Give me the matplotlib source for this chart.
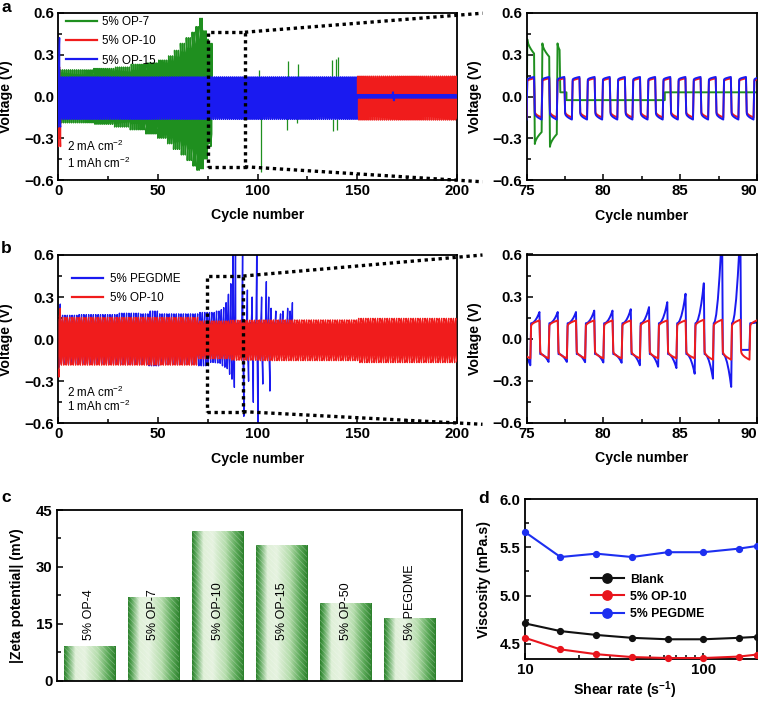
import numpy as np
import matplotlib
matplotlib.use('Agg')
import matplotlib.pyplot as plt
from matplotlib.patches import Rectangle
from matplotlib.lines import Line2D
from matplotlib.colors import LinearSegmentedColormap
from matplotlib.ticker import MultipleLocator, FixedLocator, NullFormatter, FixedFormatter

plt.rcParams['font.family'] = ['Liberation Sans', 'DejaVu Sans']
plt.rcParams['font.weight'] = 'bold'
plt.rcParams['axes.labelweight'] = 'bold'
plt.rcParams['mathtext.default'] = 'regular'
plt.rcParams['hatch.linewidth'] = 0.5

# ---------------- data ----------------
PERIOD_A = 0.985         # x-units per charge/discharge cycle, panel a traces
PHASE_A = 0.14
PERIOD_B = 1.1884        # panel b traces
PHASE_B = 0.38

# panel a : 5% OP-7 (green) -- cycling part
a_op7_cyc = [0, 1, 8, 18, 28, 36, 44, 50, 55, 58, 61, 64, 67, 69, 71, 73, 75]
a_op7_pos = [0.24, 0.19, 0.19, 0.20, 0.21, 0.23, 0.24, 0.26, 0.29, 0.33, 0.38, 0.42, 0.46, 0.50, 0.56, 0.47, 0.41]
a_op7_neg = [0.22, 0.19, 0.19, 0.20, 0.22, 0.24, 0.27, 0.30, 0.34, 0.38, 0.42, 0.46, 0.50, 0.53, 0.52, 0.45, 0.36]
a_op7_zoom_t0 = 75.1
a_op7_zoom = [0.41, -0.34, 0.38, -0.36, 0.38]
a_op7_fail = 77.2
# after short circuit: step levels
a_op7_short_t = [77.2, 77.6, 84.0, 145.0]
a_op7_short_v = [0.03, -0.026, 0.03]
a_op7_spk_t = [100.9, 101.9, 114.6, 115.3, 119.5, 120.1, 137.2, 137.8, 139.2, 139.9, 140.4]
a_op7_spk_v = [0.19, -0.54, -0.24, 0.25, -0.19, 0.23, 0.26, -0.25, 0.27, -0.24, 0.28]

# panel a : 5% OP-10 (red)
a_op10_cyc = [0, 1.0, 150]
a_op10_pos = [0.21, 0.13, 0.145]
a_op10_neg = [0.36, 0.15, 0.17]
a_op10_end = 200

# panel a : 5% OP-15 (blue)
a_op15_cyc = [0, 1.0, 150]
a_op15_pos = [0.42, 0.14, 0.012]
a_op15_neg = [0.22, 0.165, 0.012]
a_op15_spk_t = [167.6, 168.2]
a_op15_spk_v = [0.03, -0.03]
a_op15_end = 200

# panel b : 5% PEGDME (blue)
b_peg_cyc = [0, 1.0, 10, 30, 40, 45, 50, 70, 90.3]
b_peg_pos = [0.25, 0.17, 0.175, 0.185, 0.18, 0.20, 0.18, 0.19, 0.12]
b_peg_neg = [0.20, 0.175, 0.175, 0.18, 0.18, 0.19, 0.18, 0.19, 0.10]
b_peg_zoom_t0 = 75.3
b_peg_zoom = [0.19, -0.166, 0.19, -0.166, 0.19, -0.168, 0.20, -0.17, 0.20, -0.172,
              0.21, -0.19, 0.225, -0.20, 0.26, -0.21, 0.32, -0.25, 0.395, -0.285,
              0.80, -0.344, 0.80, -0.08, 0.12, -0.08]
b_peg_spk_t = [92.4, 92.9, 94.0, 95.2, 96.6, 97.8, 99.3, 99.9, 101.0, 102.5, 103.2,
               104.5, 105.3, 106.2, 108.0, 111.0, 112.5, 114.0, 116.0, 117.3]
b_peg_spk_v = [0.80, -0.55, 0.35, -0.30, 0.30, -0.45, 0.80, -0.80, 0.30, -0.32, 0.41,
               0.30, -0.37, 0.22, 0.20, 0.18, 0.20, 0.22, 0.20, 0.26]
b_peg_end = 118.5

# panel b : 5% OP-10 (red)
b_op10_cyc = [0, 1.0, 70, 86, 100, 150]
b_op10_pos = [0.22, 0.155, 0.13, 0.135, 0.137, 0.148]
b_op10_neg = [0.27, 0.185, 0.14, 0.15, 0.153, 0.167]
b_op10_end = 200

# panel c
zeta_labels = ['5% OP-4', '5% OP-7', '5% OP-10', '5% OP-15', '5% OP-50', '5% PEGDME']
zeta_values = [9.1, 22.05, 39.4, 35.8, 20.4, 16.4]

# panel d
shear_rate = [10, 15.8, 25.1, 39.8, 63.1, 100, 158, 200]
visc_blank = [4.71, 4.63, 4.59, 4.56, 4.545, 4.545, 4.56, 4.57]
visc_op10 = [4.56, 4.44, 4.39, 4.36, 4.35, 4.35, 4.365, 4.386]
visc_peg = [5.66, 5.40, 5.435, 5.40, 5.45, 5.45, 5.487, 5.515]

# ---------------- colours ----------------
C_GREEN = '#1f8f1f'
C_RED = '#f01c1c'
C_BLUE = '#1a1af0'


def build_wave(t_end, period, phase, cp_cyc, cp_pos, cp_neg, base, frac=None,
               gamma=0.5, falling=False, zoom_t0=None, zoom_vals=(),
               spk_t=(), spk_v=()):
    h = period / 2.0
    k0 = int(np.floor((0 - phase) / h))
    k1 = int(np.ceil((t_end - phase) / h))
    ks = np.arange(k0, k1)
    n = len(ks)
    starts = phase + ks * h
    mids = starts + h / 2
    sign = np.where(ks % 2 == 0, 1.0, -1.0)
    idx = np.clip(np.searchsorted(cp_cyc, mids, side='right') - 1, 0, len(cp_cyc) - 1)
    peak = np.where(sign > 0, np.take(cp_pos, idx), np.take(cp_neg, idx)).astype(float)
    if zoom_t0 is not None:
        kd = int(np.floor((zoom_t0 - phase) / h)) - k0
        if (sign[kd] > 0) != (zoom_vals[0] > 0):
            kd += 1
        for i, v in enumerate(zoom_vals):
            if 0 <= kd + i < n:
                peak[kd + i] = abs(v)
    for ts, vs in zip(spk_t, spk_v):
        kk = int(np.floor((ts - phase) / h)) - k0
        if (sign[min(kk, n - 1)] > 0) != (vs > 0):
            kk += 1
        while kk >= n:
            kk -= 2
        peak[kk] = abs(vs)
    if frac is not None:
        lo = frac * peak
    else:
        lo = np.minimum(base, peak)
    f = np.array([0.0, 0.05, 0.15, 0.3, 0.5, 0.7, 0.85, 1.0])
    g = f ** gamma
    if falling:
        mag = peak[:, None] + (lo - peak)[:, None] * g[None, :]
    else:
        mag = lo[:, None] + (peak - lo)[:, None] * g[None, :]
    d = 0.05
    xs = starts[:, None] + d + (h - d) * f[None, :]
    ys = sign[:, None] * mag
    xs = xs.ravel()
    ys = ys.ravel()
    keep = (xs >= 0) & (xs <= t_end)
    return xs[keep], ys[keep]


W, HH = 758, 702
fig = plt.figure(figsize=(W / 100, HH / 100), dpi=100)


def rect(l, t, r, b):
    return [l / W, 1 - b / HH, (r - l) / W, (b - t) / HH]


ax_a = fig.add_axes(rect(58.3, 12.7, 457, 180))
ax_az = fig.add_axes(rect(526.5, 12.7, 757, 180.3))
ax_b = fig.add_axes(rect(58.3, 255, 457, 423.3))
ax_bz = fig.add_axes(rect(526.5, 254.5, 757, 422.8))
ax_c = fig.add_axes(rect(56.7, 510, 461.7, 680.7))
ax_d = fig.add_axes(rect(525, 499.3, 757, 659))

TICK_FS = 10.8
LAB_FS = 10.2


def style(ax):
    for s in ax.spines.values():
        s.set_linewidth(1.3)
    ax.tick_params(which='both', direction='in', top=False, right=False,
                   labelsize=TICK_FS, width=1.1, pad=3)
    ax.tick_params(which='major', length=4)
    ax.tick_params(which='minor', length=3)


# ---- build waves ----
g_x, g_y = build_wave(a_op7_fail, PERIOD_A, PHASE_A, a_op7_cyc, a_op7_pos, a_op7_neg,
                      None, frac=0.75, gamma=0.6, falling=True, zoom_t0=a_op7_zoom_t0,
                      zoom_vals=a_op7_zoom)
s_x = np.repeat(a_op7_short_t, 2)[1:-1]
s_y = np.repeat(a_op7_short_v, 2)
wa7 = (np.concatenate([g_x, s_x]), np.concatenate([g_y, s_y]))
wa10 = build_wave(a_op10_end, PERIOD_A, PHASE_A, a_op10_cyc, a_op10_pos, a_op10_neg, 0.11, gamma=0.5)
wa15 = build_wave(a_op15_end, PERIOD_A, PHASE_A, a_op15_cyc, a_op15_pos, a_op15_neg, 0.12, gamma=0.5,
                  spk_t=a_op15_spk_t, spk_v=a_op15_spk_v)
wbp = build_wave(b_peg_end, PERIOD_B, PHASE_B, b_peg_cyc, b_peg_pos, b_peg_neg, 0.11, gamma=2.0,
                 zoom_t0=b_peg_zoom_t0, zoom_vals=b_peg_zoom, spk_t=b_peg_spk_t, spk_v=b_peg_spk_v)
wb10 = build_wave(b_op10_end, PERIOD_B, PHASE_B, b_op10_cyc, b_op10_pos, b_op10_neg, 0.09, gamma=0.5)

# ---- panels a, b ----
for ax, lw in ((ax_a, 1.0), (ax_az, 1.4)):
    ax.plot(*wa7, color=C_GREEN, lw=lw, zorder=2)
    ax.vlines(a_op7_spk_t, 0, a_op7_spk_v, color=C_GREEN, lw=lw * 0.9, zorder=2)
    ax.plot(*wa10, color=C_RED, lw=lw, zorder=3)
    ax.plot(*wa15, color=C_BLUE, lw=lw, zorder=4)
for ax, lw in ((ax_b, 1.0), (ax_bz, 1.4)):
    ax.plot(*wbp, color=C_BLUE, lw=lw, zorder=2)
    ax.plot(*wb10, color=C_RED, lw=lw, zorder=3)

for ax in (ax_a, ax_b):
    style(ax)
    ax.set_xlim(0, 200)
    ax.set_ylim(-0.6, 0.6)
    ax.xaxis.set_major_locator(MultipleLocator(50))
    ax.xaxis.set_minor_locator(MultipleLocator(25))
    ax.set_yticks([-0.6, -0.3, 0.0, 0.3, 0.6])
    ax.set_yticklabels(['\u22120.6', '\u22120.3', '0.0', '0.3', '0.6'])
    ax.yaxis.set_minor_locator(MultipleLocator(0.15))
    ax.set_xlabel('Cycle number', fontsize=LAB_FS)
    ax.set_ylabel('Voltage (V)', fontsize=LAB_FS)
    ax.xaxis.set_label_coords(0.5, -0.169)
    ax.yaxis.set_label_coords(-0.114, 0.5)

for ax in (ax_az, ax_bz):
    style(ax)
    ax.set_xlim(75, 90)
    ax.set_ylim(-0.6, 0.6)
    ax.set_xticks([75, 80, 85, 90])
    ax.xaxis.set_minor_locator(MultipleLocator(2.5))
    ax.set_yticks([-0.6, -0.3, 0.0, 0.3, 0.6])
    ax.set_yticklabels(['\u22120.6', '\u22120.3', '0.0', '0.3', '0.6'])
    ax.yaxis.set_minor_locator(MultipleLocator(0.15))
    ax.set_xlabel('Cycle number', fontsize=LAB_FS)
    ax.set_ylabel('Voltage (V)', fontsize=LAB_FS)
    ax.xaxis.set_label_coords(0.5, -0.169)
    ax.yaxis.set_label_coords(-0.193, 0.5)
    ax.get_xticklabels()[-1].set_horizontalalignment('right')

# legends a, b
leg_a = [Line2D([], [], color=c, lw=1.6) for c in (C_GREEN, C_RED, C_BLUE)]
ax_a.legend(leg_a, ['5% OP-7', '5% OP-10', '5% OP-15'], loc='upper left',
            bbox_to_anchor=(0.02, 0.98), frameon=False, borderpad=0, borderaxespad=0,
            handlelength=2.65, handletextpad=0.45, labelspacing=0.62,
            prop={'size': 8.4, 'weight': 'normal'})
leg_b = [Line2D([], [], color=c, lw=1.6) for c in (C_BLUE, C_RED)]
ax_b.legend(leg_b, ['5% PEGDME', '5% OP-10'], loc='upper left',
            bbox_to_anchor=(0.035, 0.895), frameon=False, borderpad=0, borderaxespad=0,
            handlelength=2.65, handletextpad=0.6, labelspacing=0.6,
            prop={'size': 8.4, 'weight': 'normal'})

for ax, y1, y2 in ((ax_a, 0.199, 0.10), (ax_b, 0.182, 0.099)):
    ax.text(0.022, y1, '2 mA cm$^{\u22122}$', transform=ax.transAxes, fontsize=8.4,
            fontweight='normal', va='center', ha='left')
    ax.text(0.022, y2, '1 mAh cm$^{\u22122}$', transform=ax.transAxes, fontsize=8.4,
            fontweight='normal', va='center', ha='left')

# zoom boxes
DOT = (0, (1, 1.1))


def zoom_box(ax, axz, x0, x1, y0, y1):
    ax.add_patch(Rectangle((x0, y0), x1 - x0, y1 - y0, fill=False, ec='black', lw=2.4,
                           ls=DOT, zorder=20, clip_on=False))
    inv = fig.transFigure.inverted()
    pa_top = ax.transData.transform((x1, y1))
    pa_bot = ax.transData.transform((x1, y0))
    zt = axz.transAxes.transform((0, 1))
    zb = axz.transAxes.transform((0, 0))
    pb_top = (zt[0] - 44, zt[1] - 0.5)
    pb_bot = (zb[0] - 44, zb[1] - 1.5)
    for pa, pb in ((pa_top, pb_top), (pa_bot, pb_bot)):
        ff = inv.transform(np.array([pa, pb]))
        fig.add_artist(Line2D(ff[:, 0], ff[:, 1], transform=fig.transFigure, color='black',
                              lw=2.4, ls=DOT, zorder=20))


zoom_box(ax_a, ax_az, 75.2, 93.6, -0.505, 0.46)
zoom_box(ax_b, ax_bz, 74.5, 92.8, -0.517, 0.45)

# ---- panel c ----
style(ax_c)
cmap = LinearSegmentedColormap.from_list('bar', [
    (0.0, '#2a7f2a'), (0.06, '#4f9f4f'), (0.22, '#dff0d8'), (0.4, '#e6f3e0'),
    (0.65, '#b4dcab'), (0.85, '#5aa857'), (1.0, '#2a7f2a')])
grad = np.linspace(0, 1, 256)[None, :]
xpos = np.arange(1, len(zeta_values) + 1)
BW = 0.8
for x, v, lab in zip(xpos, zeta_values, zeta_labels):
    ax_c.imshow(grad, extent=[x - BW / 2, x + BW / 2, 0, v], aspect='auto', cmap=cmap,
                interpolation='bilinear', zorder=1)
    ax_c.bar(x, v, width=BW, fill=False, hatch='\\\\\\\\\\\\', edgecolor=(1, 1, 1, 0.28),
             linewidth=0, zorder=2)
    ax_c.text(x, 10.7, lab, rotation=90, ha='center', va='bottom', fontsize=9,
              fontweight='normal', zorder=3)
ax_c.set_xlim(0.49, 6.81)
ax_c.set_ylim(0, 45)
ax_c.set_xticks([])
ax_c.set_yticks([0, 15, 30, 45])
ax_c.yaxis.set_minor_locator(MultipleLocator(7.5))
ax_c.set_ylabel('|Zeta potential| (mV)', fontsize=LAB_FS)
ax_c.yaxis.set_label_coords(-0.08, 0.5)

# ---- panel d ----
style(ax_d)
for vals, c, lab in ((visc_blank, '#111111', 'Blank'), (visc_op10, '#e8141c', '5% OP-10'),
                     (visc_peg, '#1d2ff0', '5% PEGDME')):
    ax_d.plot(shear_rate, vals, color=c, lw=1.5, marker='o', ms=4.2, mfc=c, mec=c,
              label=lab, clip_on=False, zorder=3)
ax_d.set_xscale('log')
ax_d.set_xlim(10, 200)
ax_d.set_ylim(4.34, 6.0)
ax_d.xaxis.set_major_locator(FixedLocator([10, 100]))
ax_d.xaxis.set_major_formatter(FixedFormatter(['10', '100']))
ax_d.xaxis.set_minor_locator(FixedLocator([20, 30, 40, 50, 60, 70, 80, 90, 200]))
ax_d.xaxis.set_minor_formatter(NullFormatter())
ax_d.set_yticks([4.5, 5.0, 5.5, 6.0])
ax_d.yaxis.set_minor_locator(MultipleLocator(0.25))
ax_d.set_xlabel('Shear rate (s$^{\u22121}$)', fontsize=LAB_FS)
ax_d.set_ylabel('Viscosity (mPa.s)', fontsize=LAB_FS)
ax_d.xaxis.set_label_coords(0.43, -0.125)
ax_d.yaxis.set_label_coords(-0.148, 0.5)
ax_d.legend(loc='upper left', bbox_to_anchor=(0.283, 0.535), frameon=False, borderpad=0,
            borderaxespad=0, handlelength=2.7, handletextpad=0.5, labelspacing=0.42,
            markerscale=1.6, prop={'size': 8.8, 'weight': 'bold'})

# panel letters
for x, y, s in ((1, 12, 'a'), (1, 253, 'b'), (1, 502, 'c'), (478, 503, 'd')):
    fig.text(x / W, 1 - y / HH, s, fontsize=12.5, fontweight='bold', ha='left', va='baseline')

fig.savefig('out.png', dpi=100)
